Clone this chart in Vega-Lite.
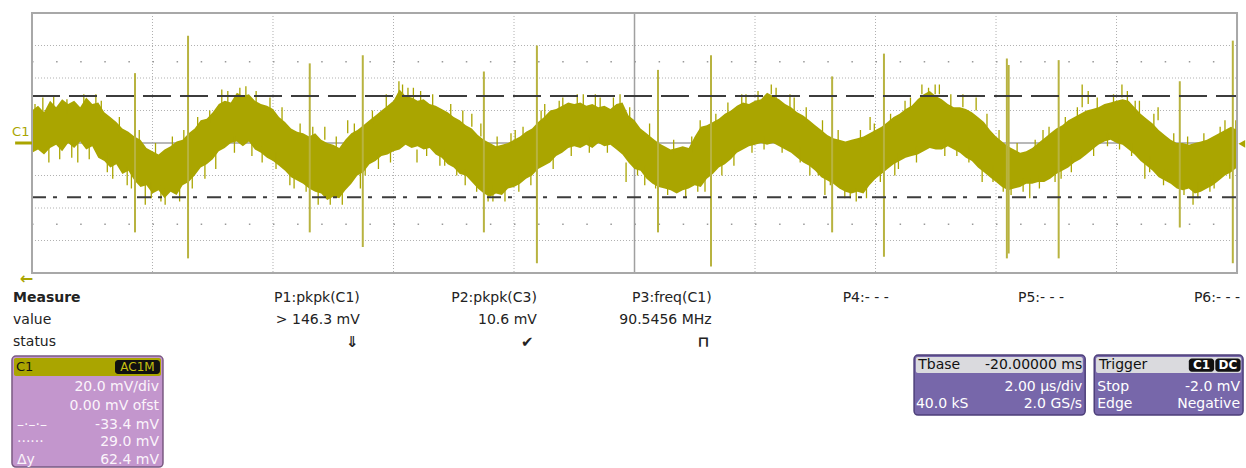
{
"$schema": "https://vega.github.io/schema/vega-lite/v6.json",
"width": 1246, "height": 468,
"autosize": {"type": "fit", "contains": "padding"},
"padding": 0,
"background": "#ffffff",
"config": {"view": {"stroke": null}},
"datasets": {
"wave": [
{"t":0,"hi":20,"lo":-6},{"t":0.1,"hi":23,"lo":-4},{"t":0.2,"hi":19,"lo":-7},{"t":0.3,"hi":26,"lo":-3},{"t":0.4,"hi":22,"lo":-1},{"t":0.5,"hi":27,"lo":-5},{"t":0.6,"hi":24,"lo":0},{"t":0.7,"hi":26,"lo":-3},{"t":0.8,"hi":22,"lo":1},{"t":0.9,"hi":28,"lo":-4},
{"t":1.0,"hi":24,"lo":-2},{"t":1.1,"hi":25,"lo":-9},{"t":1.2,"hi":19,"lo":-11},{"t":1.3,"hi":16,"lo":-15},{"t":1.4,"hi":13,"lo":-13},{"t":1.5,"hi":9,"lo":-19},{"t":1.6,"hi":7,"lo":-17},{"t":1.7,"hi":4,"lo":-23},{"t":1.8,"hi":2,"lo":-27},{"t":1.9,"hi":-3,"lo":-26},
{"t":2.0,"hi":-5,"lo":-31},{"t":2.1,"hi":-7,"lo":-29},{"t":2.2,"hi":-4,"lo":-34},{"t":2.3,"hi":-2,"lo":-30},{"t":2.4,"hi":1,"lo":-32},{"t":2.5,"hi":2,"lo":-26},{"t":2.6,"hi":6,"lo":-24},{"t":2.7,"hi":9,"lo":-20},{"t":2.8,"hi":14,"lo":-15},{"t":2.9,"hi":15,"lo":-13},
{"t":3.0,"hi":19,"lo":-10},{"t":3.1,"hi":24,"lo":-5},{"t":3.2,"hi":26,"lo":-3},{"t":3.3,"hi":25,"lo":0},{"t":3.4,"hi":31,"lo":1},{"t":3.5,"hi":29,"lo":-2},{"t":3.6,"hi":30,"lo":1},{"t":3.7,"hi":26,"lo":-4},{"t":3.8,"hi":24,"lo":-6},{"t":3.9,"hi":23,"lo":-9},
{"t":4.0,"hi":21,"lo":-11},{"t":4.1,"hi":16,"lo":-14},{"t":4.2,"hi":13,"lo":-17},{"t":4.3,"hi":9,"lo":-21},{"t":4.4,"hi":7,"lo":-23},{"t":4.5,"hi":6,"lo":-25},{"t":4.6,"hi":4,"lo":-28},{"t":4.7,"hi":6,"lo":-30},{"t":4.8,"hi":2,"lo":-31},{"t":4.9,"hi":0,"lo":-35},
{"t":5.0,"hi":-1,"lo":-33},{"t":5.1,"hi":-3,"lo":-34},{"t":5.2,"hi":2,"lo":-29},{"t":5.3,"hi":6,"lo":-25},{"t":5.4,"hi":8,"lo":-20},{"t":5.5,"hi":11,"lo":-18},{"t":5.6,"hi":14,"lo":-13},{"t":5.7,"hi":17,"lo":-11},{"t":5.8,"hi":20,"lo":-8},{"t":5.9,"hi":23,"lo":-7},
{"t":6.0,"hi":26,"lo":-5},{"t":6.1,"hi":33,"lo":-4},{"t":6.2,"hi":29,"lo":-1},{"t":6.3,"hi":28,"lo":-3},{"t":6.4,"hi":26,"lo":-2},{"t":6.5,"hi":27,"lo":-4},{"t":6.6,"hi":24,"lo":-3},{"t":6.7,"hi":23,"lo":-7},{"t":6.8,"hi":21,"lo":-9},{"t":6.9,"hi":19,"lo":-13},
{"t":7.0,"hi":16,"lo":-15},{"t":7.1,"hi":14,"lo":-19},{"t":7.2,"hi":11,"lo":-20},{"t":7.3,"hi":9,"lo":-24},{"t":7.4,"hi":5,"lo":-28},{"t":7.5,"hi":2,"lo":-31},{"t":7.6,"hi":0,"lo":-33},{"t":7.7,"hi":-2,"lo":-31},{"t":7.8,"hi":-1,"lo":-32},{"t":7.9,"hi":0,"lo":-28},
{"t":8.0,"hi":2,"lo":-27},{"t":8.1,"hi":4,"lo":-25},{"t":8.2,"hi":7,"lo":-22},{"t":8.3,"hi":9,"lo":-20},{"t":8.4,"hi":13,"lo":-16},{"t":8.5,"hi":16,"lo":-14},{"t":8.6,"hi":20,"lo":-12},{"t":8.7,"hi":21,"lo":-8},{"t":8.8,"hi":23,"lo":-6},{"t":8.9,"hi":25,"lo":-3},
{"t":9.0,"hi":24,"lo":-2},{"t":9.1,"hi":25,"lo":-3},{"t":9.2,"hi":23,"lo":-1},{"t":9.3,"hi":24,"lo":-3},{"t":9.4,"hi":22,"lo":0},{"t":9.5,"hi":23,"lo":-2},{"t":9.6,"hi":21,"lo":-1},{"t":9.7,"hi":24,"lo":-4},{"t":9.8,"hi":25,"lo":-7},{"t":9.9,"hi":17,"lo":-12},
{"t":10.0,"hi":14,"lo":-16},{"t":10.1,"hi":9,"lo":-17},{"t":10.2,"hi":6,"lo":-22},{"t":10.3,"hi":3,"lo":-25},{"t":10.4,"hi":0,"lo":-27},{"t":10.5,"hi":-2,"lo":-28},{"t":10.6,"hi":-4,"lo":-29},{"t":10.7,"hi":-3,"lo":-31},{"t":10.8,"hi":-2,"lo":-29},{"t":10.9,"hi":-3,"lo":-28},
{"t":11.0,"hi":4,"lo":-26},{"t":11.1,"hi":10,"lo":-27},{"t":11.2,"hi":11,"lo":-22},{"t":11.3,"hi":13,"lo":-19},{"t":11.4,"hi":15,"lo":-15},{"t":11.5,"hi":18,"lo":-13},{"t":11.6,"hi":20,"lo":-10},{"t":11.7,"hi":23,"lo":-6},{"t":11.8,"hi":25,"lo":-4},{"t":11.9,"hi":24,"lo":-2},
{"t":12.0,"hi":26,"lo":-1},{"t":12.1,"hi":27,"lo":0},{"t":12.2,"hi":31,"lo":-1},{"t":12.3,"hi":29,"lo":0},{"t":12.4,"hi":27,"lo":-2},{"t":12.5,"hi":24,"lo":-4},{"t":12.6,"hi":22,"lo":-6},{"t":12.7,"hi":19,"lo":-9},{"t":12.8,"hi":17,"lo":-12},{"t":12.9,"hi":14,"lo":-14},
{"t":13.0,"hi":11,"lo":-17},{"t":13.1,"hi":8,"lo":-21},{"t":13.2,"hi":5,"lo":-23},{"t":13.3,"hi":3,"lo":-25},{"t":13.4,"hi":2,"lo":-28},{"t":13.5,"hi":1,"lo":-30},{"t":13.6,"hi":2,"lo":-31},{"t":13.7,"hi":3,"lo":-30},{"t":13.8,"hi":4,"lo":-31},{"t":13.9,"hi":6,"lo":-26},
{"t":14.0,"hi":8,"lo":-22},{"t":14.1,"hi":10,"lo":-19},{"t":14.2,"hi":13,"lo":-16},{"t":14.3,"hi":16,"lo":-13},{"t":14.4,"hi":18,"lo":-11},{"t":14.5,"hi":21,"lo":-9},{"t":14.6,"hi":23,"lo":-8},{"t":14.7,"hi":27,"lo":-7},{"t":14.8,"hi":30,"lo":-5},{"t":14.9,"hi":32,"lo":-3},
{"t":15.0,"hi":29,"lo":-4},{"t":15.1,"hi":27,"lo":-4},{"t":15.2,"hi":24,"lo":-2},{"t":15.3,"hi":22,"lo":-4},{"t":15.4,"hi":22,"lo":-6},{"t":15.5,"hi":21,"lo":-9},{"t":15.6,"hi":19,"lo":-11},{"t":15.7,"hi":16,"lo":-15},{"t":15.8,"hi":13,"lo":-18},{"t":15.9,"hi":8,"lo":-21},
{"t":16.0,"hi":4,"lo":-24},{"t":16.1,"hi":1,"lo":-27},{"t":16.2,"hi":-2,"lo":-29},{"t":16.3,"hi":-4,"lo":-28},{"t":16.4,"hi":-6,"lo":-27},{"t":16.5,"hi":-5,"lo":-25},{"t":16.6,"hi":-3,"lo":-25},{"t":16.7,"hi":0,"lo":-24},{"t":16.8,"hi":3,"lo":-24},{"t":16.9,"hi":6,"lo":-22},
{"t":17.0,"hi":9,"lo":-19},{"t":17.1,"hi":11,"lo":-17},{"t":17.2,"hi":14,"lo":-15},{"t":17.3,"hi":16,"lo":-12},{"t":17.4,"hi":18,"lo":-10},{"t":17.5,"hi":20,"lo":-7},{"t":17.6,"hi":21,"lo":-4},{"t":17.7,"hi":22,"lo":-1},{"t":17.8,"hi":24,"lo":1},{"t":17.9,"hi":25,"lo":2},
{"t":18.0,"hi":26,"lo":0},{"t":18.1,"hi":27,"lo":-1},{"t":18.2,"hi":26,"lo":-4},{"t":18.3,"hi":22,"lo":-7},{"t":18.4,"hi":18,"lo":-11},{"t":18.5,"hi":15,"lo":-14},{"t":18.6,"hi":12,"lo":-17},{"t":18.7,"hi":8,"lo":-21},{"t":18.8,"hi":5,"lo":-23},{"t":18.9,"hi":2,"lo":-25},
{"t":19.0,"hi":0,"lo":-28},{"t":19.1,"hi":0,"lo":-29},{"t":19.2,"hi":-1,"lo":-28},{"t":19.3,"hi":0,"lo":-31},{"t":19.4,"hi":1,"lo":-30},{"t":19.5,"hi":2,"lo":-28},{"t":19.6,"hi":4,"lo":-26},{"t":19.7,"hi":6,"lo":-23},{"t":19.8,"hi":8,"lo":-20},{"t":19.9,"hi":10,"lo":-18},
{"t":20.0,"hi":8,"lo":-15}
],
"hair": [
{"t":0.18,"lo":17,"hi":28},{"t":0.46,"lo":-10,"hi":0},{"t":0.76,"lo":-12,"hi":0},{"t":1.06,"lo":20,"hi":30},{"t":1.34,"lo":-22,"hi":-10},{"t":1.58,"lo":-26,"hi":-15},{"t":1.88,"lo":-38,"hi":-25},{"t":2.21,"lo":-38,"hi":-28},{"t":2.87,"lo":-22,"hi":-12},{"t":3.15,"lo":24,"hi":33},
{"t":3.55,"lo":28,"hi":35},{"t":3.82,"lo":-12,"hi":-2},{"t":4.28,"lo":-26,"hi":-18},{"t":4.45,"lo":5,"hi":12},{"t":4.75,"lo":-38,"hi":-28},{"t":4.86,"lo":2,"hi":10},{"t":5.24,"lo":6,"hi":14},{"t":5.53,"lo":-20,"hi":-8},{"t":5.88,"lo":22,"hi":30},{"t":6.09,"lo":30,"hi":38},
{"t":6.24,"lo":26,"hi":34},{"t":6.39,"lo":-12,"hi":-4},{"t":6.77,"lo":-14,"hi":-4},{"t":7.19,"lo":-26,"hi":-16},{"t":7.30,"lo":10,"hi":18},{"t":7.57,"lo":-36,"hi":-28},{"t":8.02,"lo":-2,"hi":8},{"t":8.51,"lo":14,"hi":24},{"t":8.81,"lo":20,"hi":28},{"t":9.15,"lo":22,"hi":30},
{"t":9.43,"lo":20,"hi":28},{"t":9.76,"lo":22,"hi":30},{"t":9.86,"lo":-24,"hi":-12},{"t":10.17,"lo":-26,"hi":-14},{"t":11.09,"lo":5,"hi":14},{"t":11.17,"lo":-30,"hi":-20},{"t":11.55,"lo":18,"hi":25},{"t":11.78,"lo":22,"hi":30},{"t":12.27,"lo":30,"hi":36},{"t":12.58,"lo":22,"hi":30},
{"t":12.91,"lo":-20,"hi":-10},{"t":13.16,"lo":-32,"hi":-20},{"t":13.49,"lo":-34,"hi":-26},{"t":13.68,"lo":-36,"hi":-28},{"t":13.91,"lo":8,"hi":16},{"t":14.32,"lo":-20,"hi":-10},{"t":14.49,"lo":18,"hi":26},{"t":14.77,"lo":30,"hi":36},{"t":14.99,"lo":30,"hi":36},{"t":15.06,"lo":30,"hi":36},
{"t":15.45,"lo":22,"hi":30},{"t":15.67,"lo":20,"hi":28},{"t":15.77,"lo":-24,"hi":-14},{"t":16.12,"lo":-30,"hi":-20},{"t":16.56,"lo":-34,"hi":-22},{"t":16.78,"lo":0,"hi":8},{"t":16.98,"lo":-24,"hi":-14},{"t":17.43,"lo":22,"hi":36},{"t":17.53,"lo":24,"hi":32},{"t":18.09,"lo":28,"hi":36},
{"t":18.31,"lo":18,"hi":26},{"t":18.47,"lo":-22,"hi":-12},{"t":18.69,"lo":14,"hi":22},{"t":18.86,"lo":-24,"hi":-16},{"t":19.27,"lo":-38,"hi":-28},{"t":19.55,"lo":-30,"hi":-20},{"t":19.80,"lo":6,"hi":14},
{"t":0.05,"lo":12,"hi":24},{"t":0.28,"lo":-12,"hi":-2},{"t":0.36,"lo":20,"hi":29},{"t":0.58,"lo":18,"hi":27},{"t":0.66,"lo":-9,"hi":2},{"t":0.86,"lo":20,"hi":30},{"t":0.95,"lo":-10,"hi":0},{"t":1.15,"lo":14,"hi":26},{"t":1.25,"lo":-18,"hi":-6},{"t":1.45,"lo":6,"hi":16},
{"t":1.65,"lo":-28,"hi":-16},{"t":1.78,"lo":0,"hi":8},{"t":1.98,"lo":-34,"hi":-24},{"t":2.05,"lo":-8,"hi":0},{"t":2.14,"lo":-36,"hi":-26},{"t":2.33,"lo":-4,"hi":4},{"t":2.45,"lo":-36,"hi":-26},{"t":2.52,"lo":0,"hi":8},{"t":2.66,"lo":-28,"hi":-18},{"t":2.75,"lo":8,"hi":16},
{"t":2.95,"lo":12,"hi":20},{"t":3.05,"lo":-16,"hi":-6},{"t":3.25,"lo":24,"hi":32},{"t":3.36,"lo":-6,"hi":4},{"t":3.45,"lo":28,"hi":34},{"t":3.65,"lo":-8,"hi":0},{"t":3.72,"lo":24,"hi":32},{"t":3.95,"lo":20,"hi":28},{"t":4.05,"lo":-16,"hi":-6},{"t":4.15,"lo":14,"hi":22},
{"t":4.35,"lo":-28,"hi":-18},{"t":4.55,"lo":-30,"hi":-20},{"t":4.66,"lo":2,"hi":10},{"t":4.95,"lo":-38,"hi":-30},{"t":5.05,"lo":-4,"hi":4},{"t":5.15,"lo":-38,"hi":-28},{"t":5.35,"lo":4,"hi":12},{"t":5.45,"lo":-28,"hi":-16},{"t":5.65,"lo":12,"hi":20},{"t":5.75,"lo":-16,"hi":-6},
{"t":5.95,"lo":-12,"hi":-2},{"t":6.15,"lo":28,"hi":36},{"t":6.33,"lo":26,"hi":34},{"t":6.45,"lo":24,"hi":32},{"t":6.55,"lo":-8,"hi":2},{"t":6.65,"lo":22,"hi":30},{"t":6.85,"lo":-14,"hi":-4},{"t":6.95,"lo":16,"hi":24},{"t":7.05,"lo":-20,"hi":-10},{"t":7.15,"lo":12,"hi":20},
{"t":7.38,"lo":-30,"hi":-20},{"t":7.45,"lo":4,"hi":12},{"t":7.65,"lo":-36,"hi":-26},{"t":7.72,"lo":-4,"hi":4},{"t":7.85,"lo":-36,"hi":-26},{"t":7.95,"lo":-2,"hi":6},{"t":8.08,"lo":-30,"hi":-20},{"t":8.15,"lo":2,"hi":10},{"t":8.28,"lo":-26,"hi":-16},{"t":8.45,"lo":10,"hi":20},
{"t":8.65,"lo":-16,"hi":-6},{"t":8.75,"lo":18,"hi":26},{"t":8.95,"lo":-8,"hi":2},{"t":9.05,"lo":22,"hi":30},{"t":9.25,"lo":-6,"hi":4},{"t":9.35,"lo":22,"hi":30},{"t":9.55,"lo":-6,"hi":2},{"t":9.65,"lo":20,"hi":28},{"t":9.92,"lo":12,"hi":22},{"t":10.05,"lo":-20,"hi":-10},
{"t":10.25,"lo":4,"hi":12},{"t":10.35,"lo":-28,"hi":-20},{"t":10.55,"lo":-32,"hi":-24},{"t":10.65,"lo":-6,"hi":2},{"t":10.85,"lo":-34,"hi":-24},{"t":10.95,"lo":-6,"hi":4},{"t":11.05,"lo":-30,"hi":-20},{"t":11.35,"lo":10,"hi":18},{"t":11.45,"lo":-20,"hi":-10},{"t":11.65,"lo":-14,"hi":-4},
{"t":11.85,"lo":22,"hi":30},{"t":11.95,"lo":-6,"hi":2},{"t":12.05,"lo":24,"hi":32},{"t":12.15,"lo":-4,"hi":4},{"t":12.35,"lo":26,"hi":34},{"t":12.45,"lo":-6,"hi":2},{"t":12.65,"lo":20,"hi":28},{"t":12.75,"lo":-12,"hi":-2},{"t":12.85,"lo":14,"hi":22},{"t":13.05,"lo":-20,"hi":-10},
{"t":13.12,"lo":6,"hi":14},{"t":13.25,"lo":-26,"hi":-18},{"t":13.38,"lo":0,"hi":8},{"t":13.58,"lo":-34,"hi":-26},{"t":13.75,"lo":0,"hi":8},{"t":13.85,"lo":-34,"hi":-24},{"t":13.98,"lo":4,"hi":12},{"t":14.08,"lo":-24,"hi":-14},{"t":14.25,"lo":10,"hi":18},{"t":14.38,"lo":-16,"hi":-6},
{"t":14.58,"lo":20,"hi":28},{"t":14.68,"lo":-12,"hi":-2},{"t":14.88,"lo":28,"hi":34},{"t":15.15,"lo":-8,"hi":2},{"t":15.25,"lo":22,"hi":30},{"t":15.35,"lo":-8,"hi":0},{"t":15.55,"lo":-12,"hi":-2},{"t":15.85,"lo":10,"hi":18},{"t":15.95,"lo":-24,"hi":-14},{"t":16.05,"lo":0,"hi":8},
{"t":16.25,"lo":-32,"hi":-24},{"t":16.35,"lo":-8,"hi":0},{"t":16.45,"lo":-30,"hi":-22},{"t":16.65,"lo":-6,"hi":2},{"t":16.72,"lo":-28,"hi":-20},{"t":16.88,"lo":2,"hi":10},{"t":17.08,"lo":-22,"hi":-12},{"t":17.15,"lo":8,"hi":16},{"t":17.25,"lo":-18,"hi":-8},{"t":17.35,"lo":14,"hi":22},
{"t":17.62,"lo":-8,"hi":0},{"t":17.68,"lo":20,"hi":28},{"t":17.85,"lo":-2,"hi":6},{"t":17.95,"lo":22,"hi":30},{"t":18.05,"lo":-4,"hi":4},{"t":18.18,"lo":24,"hi":32},{"t":18.25,"lo":-8,"hi":0},{"t":18.38,"lo":18,"hi":26},{"t":18.55,"lo":-18,"hi":-8},{"t":18.62,"lo":10,"hi":18},
{"t":18.78,"lo":-26,"hi":-16},{"t":18.95,"lo":0,"hi":6},{"t":19.12,"lo":-32,"hi":-24},{"t":19.18,"lo":-4,"hi":4},{"t":19.35,"lo":-34,"hi":-24},{"t":19.45,"lo":-2,"hi":6},{"t":19.62,"lo":-28,"hi":-18},{"t":19.72,"lo":2,"hi":10},{"t":19.88,"lo":-22,"hi":-12},{"t":19.98,"lo":6,"hi":14}
],
"spike": [
{"t":1.71,"hi":43,"lo":-55},{"t":2.59,"hi":66,"lo":-71},{"t":4.61,"hi":49,"lo":-55},{"t":5.49,"hi":54,"lo":-64},{"t":7.50,"hi":44,"lo":-55},{"t":8.38,"hi":60,"lo":-74},{"t":10.39,"hi":45,"lo":-55},{"t":11.27,"hi":54,"lo":-76},{"t":13.28,"hi":41,"lo":-55},{"t":14.14,"hi":55,"lo":-70},{"t":16.18,"hi":52,"lo":-71},{"t":16.21,"hi":48,"lo":-68},{"t":17.04,"hi":51,"lo":-71},{"t":19.05,"hi":38,"lo":-52},{"t":19.93,"hi":63,"lo":-74}
]
},
"layer": [
{"data":{"values":[{"t":2},{"t":4},{"t":6},{"t":8},{"t":12},{"t":14},{"t":16},{"t":18}]},
 "mark":{"type":"rule","color":"#b0b0b0","strokeWidth":1,"strokeDash":[1,2]},
 "encoding":{"x":{"field":"t","type":"quantitative","scale":{"domain":[-0.531,20.149],"nice":false,"zero":false},"axis":null},
  "y":{"datum":80,"type":"quantitative","scale":{"domain":[-200,88],"nice":false,"zero":false},"axis":null},"y2":{"datum":-80}}},
{"data":{"values":[{"v":60},{"v":40},{"v":20},{"v":-20},{"v":-40},{"v":-60}]},
 "mark":{"type":"rule","color":"#b0b0b0","strokeWidth":1,"strokeDash":[1,2]},
 "encoding":{"y":{"field":"v","type":"quantitative","scale":{"domain":[-200,88],"nice":false,"zero":false},"axis":null},
  "x":{"datum":0,"type":"quantitative","scale":{"domain":[-0.531,20.149],"nice":false,"zero":false},"axis":null},"x2":{"datum":20}}},
{"data":{"values":[{"v":50},{"v":-50}]},
 "mark":{"type":"rule","color":"#999999","strokeWidth":1.5,"strokeDash":[1.5,22.6]},
 "encoding":{"y":{"field":"v","type":"quantitative","scale":{"domain":[-200,88],"nice":false,"zero":false},"axis":null},
  "x":{"datum":0,"type":"quantitative","scale":{"domain":[-0.531,20.149],"nice":false,"zero":false},"axis":null},"x2":{"datum":20}}},
{"data":{"values":[{}]},
 "mark":{"type":"rule","color":"#a0a0a0","strokeWidth":1.5},
 "encoding":{"x":{"datum":10,"type":"quantitative","scale":{"domain":[-0.531,20.149],"nice":false,"zero":false},"axis":null},
  "y":{"datum":80,"type":"quantitative","scale":{"domain":[-200,88],"nice":false,"zero":false},"axis":null},"y2":{"datum":-80}}},
{"data":{"values":[{}]},
 "mark":{"type":"rule","color":"#a0a0a0","strokeWidth":1.5},
 "encoding":{"y":{"datum":0,"type":"quantitative","scale":{"domain":[-200,88],"nice":false,"zero":false},"axis":null},
  "x":{"datum":0,"type":"quantitative","scale":{"domain":[-0.531,20.149],"nice":false,"zero":false},"axis":null},"x2":{"datum":20}}},
{"data":{"name":"wave"},
 "mark":{"type":"area","interpolate":"linear","color":"#aaa500","opacity":1},
 "encoding":{"x":{"field":"t","type":"quantitative","scale":{"domain":[-0.531,20.149],"nice":false,"zero":false},"axis":null},
  "y":{"field":"hi","type":"quantitative","scale":{"domain":[-200,88],"nice":false,"zero":false},"axis":null},"y2":{"field":"lo"}}},
{"data":{"name":"hair"},
 "mark":{"type":"rule","color":"#aaa500","strokeWidth":1.3},
 "encoding":{"x":{"field":"t","type":"quantitative","scale":{"domain":[-0.531,20.149],"nice":false,"zero":false},"axis":null},
  "y":{"field":"hi","type":"quantitative","scale":{"domain":[-200,88],"nice":false,"zero":false},"axis":null},"y2":{"field":"lo"}}},
{"data":{"name":"spike"},
 "mark":{"type":"rule","color":"#b8b340","strokeWidth":2},
 "encoding":{"x":{"field":"t","type":"quantitative","scale":{"domain":[-0.531,20.149],"nice":false,"zero":false},"axis":null},
  "y":{"field":"hi","type":"quantitative","scale":{"domain":[-200,88],"nice":false,"zero":false},"axis":null},"y2":{"field":"lo"}}},
{"data":{"values":[{}]},
 "mark":{"type":"rule","color":"#3c3c3c","strokeWidth":2,"strokeDash":[28,9]},
 "encoding":{"y":{"datum":29.0,"type":"quantitative","scale":{"domain":[-200,88],"nice":false,"zero":false},"axis":null},
  "x":{"datum":0,"type":"quantitative","scale":{"domain":[-0.531,20.149],"nice":false,"zero":false},"axis":null},"x2":{"datum":20}}},
{"data":{"values":[{}]},
 "mark":{"type":"rule","color":"#3c3c3c","strokeWidth":2,"strokeDash":[14,7,4,10]},
 "encoding":{"y":{"datum":-33.4,"type":"quantitative","scale":{"domain":[-200,88],"nice":false,"zero":false},"axis":null},
  "x":{"datum":0,"type":"quantitative","scale":{"domain":[-0.531,20.149],"nice":false,"zero":false},"axis":null},"x2":{"datum":20}}},
{"data":{"values":[{}]},
 "mark":{"type":"rect","fillOpacity":0,"stroke":"#a8a8a8","strokeWidth":2},
 "encoding":{"x":{"datum":0,"type":"quantitative","scale":{"domain":[-0.531,20.149],"nice":false,"zero":false},"axis":null},"x2":{"datum":20},
  "y":{"datum":80,"type":"quantitative","scale":{"domain":[-200,88],"nice":false,"zero":false},"axis":null},"y2":{"datum":-80}}},
{"data":{"values":[{}]},
 "mark":{"type":"rule","color":"#aaa500","strokeWidth":3},
 "encoding":{"y":{"datum":0,"type":"quantitative","scale":{"domain":[-200,88],"nice":false,"zero":false},"axis":null},
  "x":{"datum":-0.28,"type":"quantitative","scale":{"domain":[-0.531,20.149],"nice":false,"zero":false},"axis":null},"x2":{"datum":0}}},
{"data":{"values":[{"t":20.08,"v":-0.5}]},
 "mark":{"type":"point","shape":"triangle-left","filled":true,"color":"#aaa500","size":60,"opacity":1},
 "encoding":{"x":{"field":"t","type":"quantitative","scale":{"domain":[-0.531,20.149],"nice":false,"zero":false},"axis":null},
  "y":{"field":"v","type":"quantitative","scale":{"domain":[-200,88],"nice":false,"zero":false},"axis":null}}},
{"data":{"values":[{"t":-0.33,"v":6.8,"s":"C1"}]},
 "mark":{"type":"text","align":"left","baseline":"middle","font":"DejaVu Sans","fontSize":13,"color":"#aaa500"},
 "encoding":{"x":{"field":"t","type":"quantitative","scale":{"domain":[-0.531,20.149],"nice":false,"zero":false},"axis":null},
  "y":{"field":"v","type":"quantitative","scale":{"domain":[-200,88],"nice":false,"zero":false},"axis":null},"text":{"field":"s"}}},
{"data":{"values":[{"t":-0.09,"v":-83.7,"s":"←"}]},
 "mark":{"type":"text","align":"center","baseline":"middle","font":"DejaVu Sans","fontSize":16,"fontWeight":"bold","color":"#aaa500"},
 "encoding":{"x":{"field":"t","type":"quantitative","scale":{"domain":[-0.531,20.149],"nice":false,"zero":false},"axis":null},
  "y":{"field":"v","type":"quantitative","scale":{"domain":[-200,88],"nice":false,"zero":false},"axis":null},"text":{"field":"s"}}},
{"data":{"values":[{"t":-0.315,"v":-95.4,"s":"Measure"}]},
 "mark":{"type":"text","align":"left","baseline":"middle","font":"DejaVu Sans","fontSize":14,"fontWeight":"bold","color":"#222222"},
 "encoding":{"x":{"field":"t","type":"quantitative","scale":{"domain":[-0.531,20.149],"nice":false,"zero":false},"axis":null},
  "y":{"field":"v","type":"quantitative","scale":{"domain":[-200,88],"nice":false,"zero":false},"axis":null},"text":{"field":"s"}}},
{"data":{"values":[{"t":-0.315,"v":-108.9,"s":"value"},{"t":-0.315,"v":-122.5,"s":"status"}]},
 "mark":{"type":"text","align":"left","baseline":"middle","font":"DejaVu Sans","fontSize":14,"color":"#222222"},
 "encoding":{"x":{"field":"t","type":"quantitative","scale":{"domain":[-0.531,20.149],"nice":false,"zero":false},"axis":null},
  "y":{"field":"v","type":"quantitative","scale":{"domain":[-200,88],"nice":false,"zero":false},"axis":null},"text":{"field":"s"}}},
{"data":{"values":[
 {"t":5.44,"v":-95.4,"s":"P1:pkpk(C1)"},{"t":5.44,"v":-108.9,"s":"> 146.3 mV"},
 {"t":8.38,"v":-95.4,"s":"P2:pkpk(C3)"},{"t":8.38,"v":-108.9,"s":"10.6 mV"},
 {"t":11.28,"v":-95.4,"s":"P3:freq(C1)"},{"t":11.28,"v":-108.9,"s":"90.5456 MHz"},
 {"t":14.22,"v":-95.4,"s":"P4:- - -"},{"t":17.13,"v":-95.4,"s":"P5:- - -"},{"t":20.05,"v":-95.4,"s":"P6:- - -"}]},
 "mark":{"type":"text","align":"right","baseline":"middle","font":"DejaVu Sans","fontSize":14,"color":"#222222"},
 "encoding":{"x":{"field":"t","type":"quantitative","scale":{"domain":[-0.531,20.149],"nice":false,"zero":false},"axis":null},
  "y":{"field":"v","type":"quantitative","scale":{"domain":[-200,88],"nice":false,"zero":false},"axis":null},"text":{"field":"s"}}},
{"data":{"values":[{"t":5.31,"v":-122.5,"s":"⇓"},{"t":8.22,"v":-122.5,"s":"✔"},{"t":11.15,"v":-122.5,"s":"⊓"}]},
 "mark":{"type":"text","align":"center","baseline":"middle","font":"DejaVu Sans","fontSize":15,"fontWeight":"bold","color":"#222222"},
 "encoding":{"x":{"field":"t","type":"quantitative","scale":{"domain":[-0.531,20.149],"nice":false,"zero":false},"axis":null},
  "y":{"field":"v","type":"quantitative","scale":{"domain":[-200,88],"nice":false,"zero":false},"axis":null},"text":{"field":"s"}}},
{"data":{"values":[{}]},
 "mark":{"type":"rect","fill":"#c396cd","stroke":"#7a5a82","strokeWidth":1.5,"cornerRadius":4},
 "encoding":{"x":{"datum":-0.332,"type":"quantitative","scale":{"domain":[-0.531,20.149],"nice":false,"zero":false},"axis":null},"x2":{"datum":2.174},
  "y":{"datum":-131.1,"type":"quantitative","scale":{"domain":[-200,88],"nice":false,"zero":false},"axis":null},"y2":{"datum":-199.4}}},
{"data":{"values":[{}]},
 "mark":{"type":"rect","fill":"#aaa500","cornerRadius":2},
 "encoding":{"x":{"datum":-0.299,"type":"quantitative","scale":{"domain":[-0.531,20.149],"nice":false,"zero":false},"axis":null},"x2":{"datum":2.141},
  "y":{"datum":-132.3,"type":"quantitative","scale":{"domain":[-200,88],"nice":false,"zero":false},"axis":null},"y2":{"datum":-143.4}}},
{"data":{"values":[{}]},
 "mark":{"type":"rect","fill":"#111111","cornerRadius":3},
 "encoding":{"x":{"datum":1.378,"type":"quantitative","scale":{"domain":[-0.531,20.149],"nice":false,"zero":false},"axis":null},"x2":{"datum":2.124},
  "y":{"datum":-133.5,"type":"quantitative","scale":{"domain":[-200,88],"nice":false,"zero":false},"axis":null},"y2":{"datum":-142.2}}},
{"data":{"values":[{"t":-0.266,"v":-137.8,"s":"C1"}]},
 "mark":{"type":"text","align":"left","baseline":"middle","font":"DejaVu Sans","fontSize":13,"color":"#111111"},
 "encoding":{"x":{"field":"t","type":"quantitative","scale":{"domain":[-0.531,20.149],"nice":false,"zero":false},"axis":null},
  "y":{"field":"v","type":"quantitative","scale":{"domain":[-200,88],"nice":false,"zero":false},"axis":null},"text":{"field":"s"}}},
{"data":{"values":[{"t":1.751,"v":-137.8,"s":"AC1M"}]},
 "mark":{"type":"text","align":"center","baseline":"middle","font":"DejaVu Sans","fontSize":12,"color":"#c4bf10"},
 "encoding":{"x":{"field":"t","type":"quantitative","scale":{"domain":[-0.531,20.149],"nice":false,"zero":false},"axis":null},
  "y":{"field":"v","type":"quantitative","scale":{"domain":[-200,88],"nice":false,"zero":false},"axis":null},"text":{"field":"s"}}},
{"data":{"values":[
 {"t":2.108,"v":-150.2,"s":"20.0 mV/div"},{"t":2.108,"v":-161.8,"s":"0.00 mV ofst"},{"t":2.108,"v":-173.5,"s":"-33.4 mV"},{"t":2.108,"v":-184.0,"s":"29.0 mV"},{"t":2.108,"v":-195.1,"s":"62.4 mV"}]},
 "mark":{"type":"text","align":"right","baseline":"middle","font":"DejaVu Sans","fontSize":14,"color":"#fbf4fb"},
 "encoding":{"x":{"field":"t","type":"quantitative","scale":{"domain":[-0.531,20.149],"nice":false,"zero":false},"axis":null},
  "y":{"field":"v","type":"quantitative","scale":{"domain":[-200,88],"nice":false,"zero":false},"axis":null},"text":{"field":"s"}}},
{"data":{"values":[{"t":-0.249,"v":-173.5,"s":"–·–·–"},{"t":-0.249,"v":-184.0,"s":"······"},{"t":-0.249,"v":-195.1,"s":"Δy"}]},
 "mark":{"type":"text","align":"left","baseline":"middle","font":"DejaVu Sans","fontSize":14,"color":"#fbf4fb"},
 "encoding":{"x":{"field":"t","type":"quantitative","scale":{"domain":[-0.531,20.149],"nice":false,"zero":false},"axis":null},
  "y":{"field":"v","type":"quantitative","scale":{"domain":[-200,88],"nice":false,"zero":false},"axis":null},"text":{"field":"s"}}},
{"data":{"values":[{"a":14.64,"b":17.48},{"a":17.63,"b":20.10}]},
 "mark":{"type":"rect","fill":"#7767aa","stroke":"#4d3f7a","strokeWidth":1.5,"cornerRadius":4},
 "encoding":{"x":{"field":"a","type":"quantitative","scale":{"domain":[-0.531,20.149],"nice":false,"zero":false},"axis":null},"x2":{"field":"b"},
  "y":{"datum":-130.5,"type":"quantitative","scale":{"domain":[-200,88],"nice":false,"zero":false},"axis":null},"y2":{"datum":-167.4}}},
{"data":{"values":[{"a":14.67,"b":17.44},{"a":17.66,"b":20.07}]},
 "mark":{"type":"rect","fill":"#dadade","cornerRadius":2},
 "encoding":{"x":{"field":"a","type":"quantitative","scale":{"domain":[-0.531,20.149],"nice":false,"zero":false},"axis":null},"x2":{"field":"b"},
  "y":{"datum":-131.7,"type":"quantitative","scale":{"domain":[-200,88],"nice":false,"zero":false},"axis":null},"y2":{"datum":-141.5}}},
{"data":{"values":[{"a":19.20,"b":19.62},{"a":19.64,"b":20.06}]},
 "mark":{"type":"rect","fill":"#111111","cornerRadius":3},
 "encoding":{"x":{"field":"a","type":"quantitative","scale":{"domain":[-0.531,20.149],"nice":false,"zero":false},"axis":null},"x2":{"field":"b"},
  "y":{"datum":-132.6,"type":"quantitative","scale":{"domain":[-200,88],"nice":false,"zero":false},"axis":null},"y2":{"datum":-140.8}}},
{"data":{"values":[{"t":19.41,"v":-136.6,"s":"C1"},{"t":19.85,"v":-136.6,"s":"DC"}]},
 "mark":{"type":"text","align":"center","baseline":"middle","font":"DejaVu Sans","fontSize":12,"fontWeight":"bold","color":"#ffffff"},
 "encoding":{"x":{"field":"t","type":"quantitative","scale":{"domain":[-0.531,20.149],"nice":false,"zero":false},"axis":null},
  "y":{"field":"v","type":"quantitative","scale":{"domain":[-200,88],"nice":false,"zero":false},"axis":null},"text":{"field":"s"}}},
{"data":{"values":[{"t":14.71,"v":-136.6,"s":"Tbase"},{"t":17.71,"v":-136.6,"s":"Trigger"}]},
 "mark":{"type":"text","align":"left","baseline":"middle","font":"DejaVu Sans","fontSize":14,"color":"#111111"},
 "encoding":{"x":{"field":"t","type":"quantitative","scale":{"domain":[-0.531,20.149],"nice":false,"zero":false},"axis":null},
  "y":{"field":"v","type":"quantitative","scale":{"domain":[-200,88],"nice":false,"zero":false},"axis":null},"text":{"field":"s"}}},
{"data":{"values":[{"t":17.43,"v":-136.6,"s":"-20.00000 ms"}]},
 "mark":{"type":"text","align":"right","baseline":"middle","font":"DejaVu Sans","fontSize":14,"color":"#111111"},
 "encoding":{"x":{"field":"t","type":"quantitative","scale":{"domain":[-0.531,20.149],"nice":false,"zero":false},"axis":null},
  "y":{"field":"v","type":"quantitative","scale":{"domain":[-200,88],"nice":false,"zero":false},"axis":null},"text":{"field":"s"}}},
{"data":{"values":[{"t":14.67,"v":-160.6,"s":"40.0 kS"},{"t":17.68,"v":-150.2,"s":"Stop"},{"t":17.68,"v":-160.6,"s":"Edge"}]},
 "mark":{"type":"text","align":"left","baseline":"middle","font":"DejaVu Sans","fontSize":14,"color":"#ffffff"},
 "encoding":{"x":{"field":"t","type":"quantitative","scale":{"domain":[-0.531,20.149],"nice":false,"zero":false},"axis":null},
  "y":{"field":"v","type":"quantitative","scale":{"domain":[-200,88],"nice":false,"zero":false},"axis":null},"text":{"field":"s"}}},
{"data":{"values":[{"t":17.43,"v":-150.2,"s":"2.00 µs/div"},{"t":17.43,"v":-160.6,"s":"2.0 GS/s"},{"t":20.05,"v":-150.2,"s":"-2.0 mV"},{"t":20.05,"v":-160.6,"s":"Negative"}]},
 "mark":{"type":"text","align":"right","baseline":"middle","font":"DejaVu Sans","fontSize":14,"color":"#ffffff"},
 "encoding":{"x":{"field":"t","type":"quantitative","scale":{"domain":[-0.531,20.149],"nice":false,"zero":false},"axis":null},
  "y":{"field":"v","type":"quantitative","scale":{"domain":[-200,88],"nice":false,"zero":false},"axis":null},"text":{"field":"s"}}}
]
}
